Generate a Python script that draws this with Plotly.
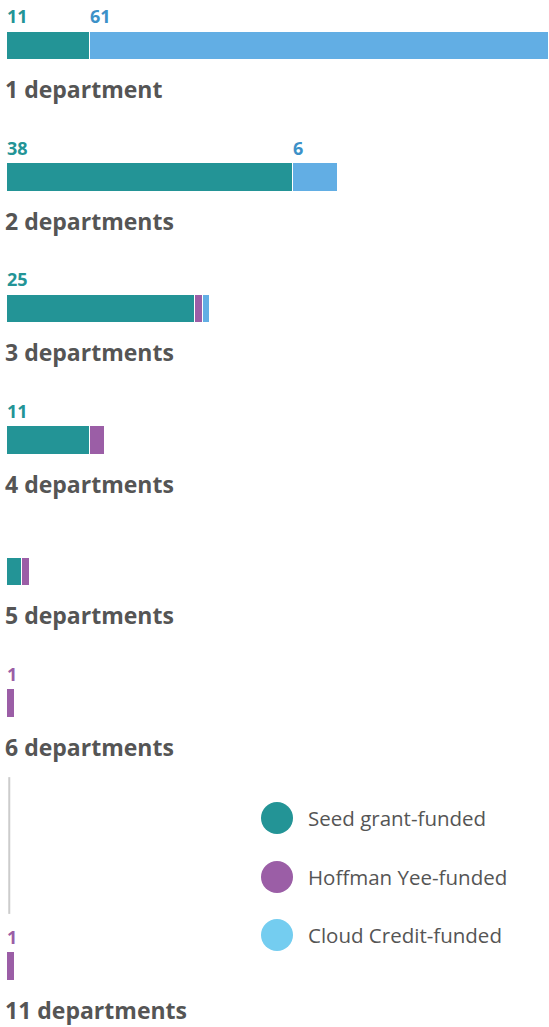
import plotly.graph_objects as go

# ---- data ----
departments = [1, 2, 3, 4, 5, 6, 11]
category_labels = ["1 department", "2 departments", "3 departments", "4 departments",
                   "5 departments", "6 departments", "11 departments"]
series_names = ["Seed grant-funded", "Hoffman Yee-funded", "Cloud Credit-funded"]
seed_grant = [11, 38, 25, 11, 2, 0, 0]
hoffman_yee = [0, 0, 1, 2, 1, 1, 1]
cloud_credit = [61, 6, 1, 0, 0, 0, 0]

# ---- style ----
bar_colors = ["#239496", "#9b5ea6", "#62aee4"]
label_colors = ["#239496", "#9b5ea6", "#3c91c8"]
legend_colors = ["#239496", "#9b5ea6", "#74cdf0"]
text_gray = "#555555"
FONT = "Open Sans"
W, H = 549, 1027
slot_px = 131.5
first_px = 46.0

# slot positions: consecutive rank, with an extra empty slot where counts jump
slots = []
s = 0
for i, d in enumerate(departments):
    if i > 0 and d - departments[i - 1] > 1:
        s += 1
    slots.append(s)
    s += 1

series = [seed_grant, hoffman_yee, cloud_credit]
total_max = max(a + b + c for a, b, c in zip(*series))

fig = go.Figure()
for name, vals, col in zip(series_names, series, bar_colors):
    fig.add_trace(go.Bar(
        x=vals, y=slots, orientation="h", name=name,
        marker=dict(color=col, line=dict(color="white", width=1.5)),
        width=0.215, hoverinfo="skip", showlegend=False,
    ))

annotations = []
for r, sl in enumerate(slots):
    start = 0
    vals_row = [ser[r] for ser in series]
    nonzero = [v for v in vals_row if v > 0]
    for k, v in enumerate(vals_row):
        if v > 0 and (v >= 5 or len(nonzero) == 1):
            annotations.append(dict(
                x=start, y=sl - 30 / slot_px, xref="x", yref="y",
                text=f"<b>{v}</b>", showarrow=False, xanchor="left", yanchor="middle",
                xshift=-2, font=dict(family=FONT, size=18, color=label_colors[k]),
            ))
        start += v
    annotations.append(dict(
        x=0, y=sl + 43 / slot_px, xref="x", yref="y",
        text=f"<b>{category_labels[r]}</b>", showarrow=False, xanchor="left",
        yanchor="middle", xshift=-4,
        font=dict(family=FONT, size=23, color=text_gray),
    ))

# legend drawn manually
shapes = []
legend_y_px = [818, 877, 935]
for name, col, ypx in zip(series_names, legend_colors, legend_y_px):
    cx, r = 277, 16
    shapes.append(dict(type="circle", xref="paper", yref="paper",
                       x0=(cx - r - 7) / (W - 7), x1=(cx + r - 7) / (W - 7),
                       y0=1 - (ypx + r) / H, y1=1 - (ypx - r) / H,
                       fillcolor=col, line=dict(width=0)))
    annotations.append(dict(x=(306 - 7) / (W - 7), y=1 - ypx / H, xref="paper", yref="paper",
                            text=name, showarrow=False, xanchor="left", yanchor="middle",
                            font=dict(family=FONT, size=20.5, color=text_gray)))

# axis break line
gap_slot = [sl for i, sl in enumerate(slots) if i > 0 and sl - slots[i - 1] > 1][0]
shapes.append(dict(type="line", xref="x", yref="y", x0=0.3, x1=0.3,
                   y0=gap_slot - 1.44, y1=gap_slot - 0.4,
                   line=dict(color="#cccccc", width=2)))

y_top = -first_px / slot_px
y_bot = (H - first_px) / slot_px
fig.update_layout(
    width=W, height=H, barmode="stack", bargap=0,
    margin=dict(l=7, r=0, t=0, b=0),
    plot_bgcolor="white", paper_bgcolor="white",
    xaxis=dict(range=[0, total_max], visible=False, fixedrange=True),
    yaxis=dict(range=[y_bot, y_top], visible=False, fixedrange=True),
    annotations=annotations, shapes=shapes, showlegend=False,
)
fig.write_html("out.html", config={"displayModeBar": False},
               post_script="document.body.style.margin='0';document.body.style.overflow='hidden';")
